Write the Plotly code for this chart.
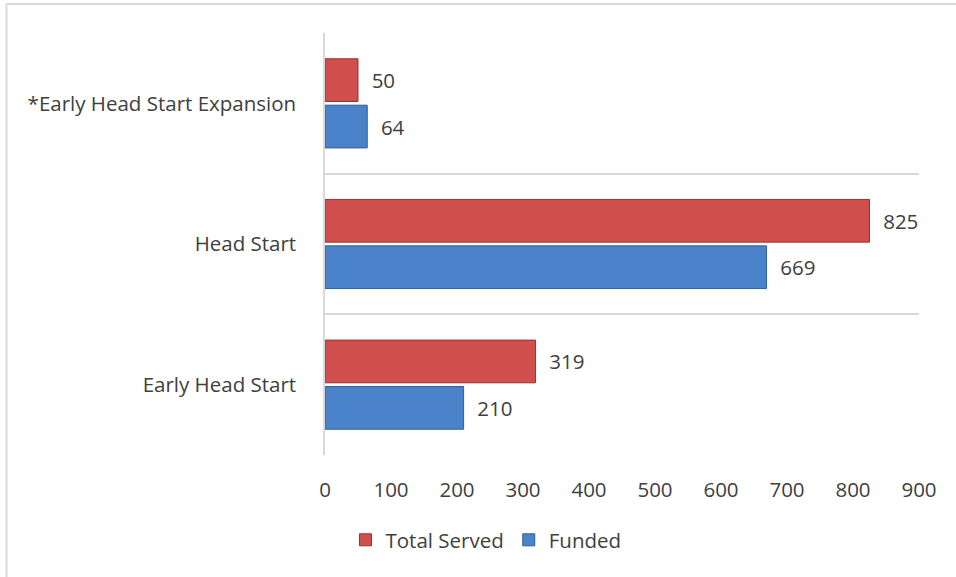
import plotly.graph_objects as go

categories = ["Early Head Start", "Head Start", "*Early Head Start Expansion"]
total_served = [319, 825, 50]
funded = [210, 669, 64]
x_ticks = [0, 100, 200, 300, 400, 500, 600, 700, 800, 900]

FONT = "Open Sans"
FS = 20.5
TXT = "#404040"
L, R, T, B = 325, 37, 33, 122
W, H = 956, 577
pw, ph = W - L - R, H - T - B

fig = go.Figure()
fig.add_trace(go.Bar(
    y=categories, x=funded, name="Funded", orientation="h",
    marker=dict(color="#4a83c9", line=dict(color="#2f5f9a", width=1)),
    text=["  " + str(v) for v in funded], textposition="outside",
    textfont=dict(family=FONT, size=FS, color=TXT), cliponaxis=False,
))
fig.add_trace(go.Bar(
    y=categories, x=total_served, name="Total Served", orientation="h",
    marker=dict(color="#d04e4b", line=dict(color="#963432", width=1)),
    text=["  " + str(v) for v in total_served], textposition="outside",
    textfont=dict(family=FONT, size=FS, color=TXT), cliponaxis=False,
))

def px_x(p):
    return (p - L) / pw

def px_y(p):
    return (H - B - p) / ph

fig.update_layout(
    width=W, height=H,
    margin=dict(l=L, r=R, t=T, b=B, pad=0),
    paper_bgcolor="white", plot_bgcolor="white",
    barmode="group", bargap=0.34, bargroupgap=0.08,
    font=dict(family=FONT, size=FS, color=TXT),
    showlegend=True,
    legend=dict(orientation="h", traceorder="reversed",
                x=px_x(486), y=px_y(540), xanchor="center", yanchor="middle",
                font=dict(family=FONT, size=FS, color=TXT)),
    xaxis=dict(range=[0, 900], tickvals=x_ticks, showgrid=False, zeroline=False,
               showline=False, ticks="", ticklabelstandoff=20,
               tickfont=dict(family=FONT, size=FS, color=TXT)),
    yaxis=dict(type="category", tickson="boundaries", showgrid=True,
               gridcolor="#d9d9d9", gridwidth=1.5, showline=True,
               linecolor="#d9d9d9", linewidth=1.5, ticks="", ticklabelstandoff=23,
               tickfont=dict(family=FONT, size=FS, color=TXT)),
    shapes=[
        dict(type="line", xref="paper", yref="paper", x0=px_x(6.5), x1=px_x(W + 5),
             y0=px_y(4), y1=px_y(4), line=dict(color="#d9d9d9", width=2)),
        dict(type="line", xref="paper", yref="paper", x0=px_x(6.5), x1=px_x(6.5),
             y0=px_y(4), y1=px_y(H + 5), line=dict(color="#d9d9d9", width=2)),
    ],
)

fig.write_html("out.html", config={"displayModeBar": False},
               post_script="document.body.style.margin='0';document.body.style.overflow='hidden';")
